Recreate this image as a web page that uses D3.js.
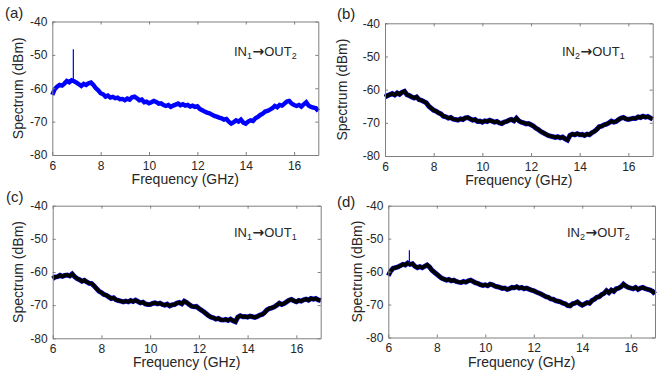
<!DOCTYPE html>
<html>
<head>
<meta charset="utf-8">
<script src="https://cdn.jsdelivr.net/npm/d3@7"></script>
<style>
  body { margin: 0; background: #fff; }
  text { font-family: "Liberation Sans", Arial, sans-serif; fill: #262626; }
</style>
</head>
<body>
<div id="chart"></div>
<script>
// frequency grid of the read-off points (GHz)
var freqGHz = [6.0,6.1,6.2,6.3,6.4,6.5,6.6,6.7,6.8,6.9,7.0,7.1,7.2,7.3,7.4,7.5,7.6,7.7,7.8,7.9,
  8.0,8.1,8.2,8.3,8.4,8.5,8.6,8.7,8.8,8.9,9.0,9.1,9.2,9.3,9.4,9.5,9.6,9.7,9.8,9.9,
  10.0,10.1,10.2,10.3,10.4,10.5,10.6,10.7,10.8,10.9,11.0,11.1,11.2,11.3,11.4,11.5,11.6,11.7,11.8,11.9,
  12.0,12.1,12.2,12.3,12.4,12.5,12.6,12.7,12.8,12.9,13.0,13.1,13.2,13.3,13.4,13.5,13.6,13.7,13.8,13.9,
  14.0,14.1,14.2,14.3,14.4,14.5,14.6,14.7,14.8,14.9,15.0,15.1,15.2,15.3,15.4,15.5,15.6,15.7,15.8,15.9,
  16.0,16.1,16.2,16.3,16.4,16.5,16.6,16.7,16.8,16.9,17.0];

// spectra (dBm)
var specA = [-62.0,-60.3,-59.5,-59.0,-59.2,-58.6,-57.8,-58.2,-57.6,-57.9,
  -58.3,-58.8,-59.3,-58.7,-59.0,-58.5,-58.3,-59.0,-60.0,-60.6,
  -61.5,-61.8,-62.5,-62.2,-62.8,-62.6,-63.0,-62.8,-63.3,-63.2,
  -63.6,-63.1,-63.4,-62.7,-62.5,-63.0,-63.6,-63.4,-64.2,-64.0,
  -64.5,-64.2,-63.8,-64.1,-64.6,-64.5,-65.0,-65.3,-65.0,-65.6,
  -65.2,-64.9,-64.6,-65.1,-64.8,-65.2,-65.0,-65.5,-65.2,-65.6,
  -65.4,-66.2,-66.6,-67.0,-67.3,-67.5,-67.9,-68.3,-68.5,-68.8,
  -69.0,-69.4,-69.2,-70.0,-70.6,-70.2,-69.6,-70.0,-69.4,-70.3,
  -70.6,-70.0,-69.6,-69.8,-69.0,-68.6,-68.0,-67.6,-67.0,-66.8,
  -66.4,-66.0,-65.3,-65.7,-65.0,-65.2,-64.6,-64.0,-63.8,-64.6,
  -65.0,-65.3,-65.0,-65.5,-64.8,-64.2,-65.2,-65.6,-65.8,-66.0,-66.8];

var specB = [-62.2,-61.8,-61.5,-61.2,-61.6,-61.0,-61.4,-60.8,-60.5,-61.5,
  -61.8,-62.2,-62.5,-62.2,-63.0,-63.2,-63.6,-64.0,-65.0,-65.6,
  -66.2,-66.5,-67.0,-67.3,-68.0,-68.2,-68.6,-68.4,-68.9,-69.0,
  -69.2,-68.8,-69.0,-68.5,-68.4,-68.8,-69.2,-69.0,-69.6,-69.5,
  -69.8,-69.4,-69.6,-69.2,-69.5,-69.8,-69.6,-70.0,-70.2,-69.8,
  -69.6,-69.2,-69.0,-69.4,-68.6,-69.4,-69.8,-70.0,-70.3,-70.2,
  -70.6,-71.0,-71.6,-72.0,-72.6,-73.0,-73.4,-73.8,-74.0,-74.2,
  -74.4,-74.2,-74.5,-74.3,-74.8,-75.2,-73.8,-73.4,-73.6,-73.3,
  -73.6,-73.5,-73.8,-73.4,-73.6,-73.0,-72.6,-72.0,-71.2,-71.0,
  -70.6,-70.4,-70.0,-69.5,-69.8,-69.6,-69.0,-68.6,-68.4,-68.8,
  -69.0,-68.8,-68.6,-68.7,-68.2,-68.4,-68.0,-68.3,-68.1,-68.5,-68.9];

var specC = [-62.0,-61.5,-61.4,-61.0,-61.3,-61.0,-60.9,-61.2,-60.6,-61.4,
  -62.0,-62.3,-62.8,-62.5,-63.0,-63.4,-63.5,-64.2,-65.0,-65.8,
  -66.2,-66.8,-67.0,-67.5,-68.0,-67.8,-68.4,-68.6,-68.8,-69.0,
  -68.8,-69.0,-68.6,-68.9,-68.5,-68.9,-69.3,-69.1,-69.6,-69.8,
  -69.8,-69.5,-69.3,-69.6,-69.4,-69.8,-70.0,-69.7,-70.2,-69.9,
  -69.8,-69.4,-69.2,-69.6,-68.8,-69.2,-69.8,-70.3,-70.5,-70.4,
  -71.0,-71.5,-72.0,-72.6,-73.2,-73.6,-73.8,-74.2,-74.0,-74.4,
  -74.5,-74.3,-74.6,-74.2,-74.7,-75.0,-73.6,-73.2,-73.5,-73.4,
  -73.6,-73.3,-73.5,-73.7,-73.4,-73.0,-72.8,-72.2,-71.4,-71.0,
  -70.8,-70.5,-70.0,-69.4,-69.8,-69.5,-69.0,-68.5,-68.3,-68.7,
  -69.0,-68.6,-68.8,-68.4,-68.2,-68.5,-68.0,-68.2,-68.0,-68.4,-68.6];

var specD = [-61.2,-59.8,-59.0,-58.8,-58.6,-58.2,-57.8,-58.0,-57.4,-57.8,
  -57.6,-58.4,-58.8,-58.5,-58.8,-58.4,-58.0,-58.6,-59.6,-60.2,
  -60.8,-61.4,-62.0,-62.3,-62.6,-62.4,-62.8,-62.6,-63.0,-63.2,
  -63.3,-63.0,-63.2,-62.8,-62.6,-63.0,-63.4,-63.6,-64.0,-64.2,
  -64.0,-64.3,-63.8,-64.0,-64.4,-64.6,-64.8,-65.1,-65.0,-65.4,
  -65.2,-64.8,-64.9,-64.6,-65.0,-64.8,-65.2,-65.0,-65.3,-65.6,
  -65.8,-66.2,-66.5,-66.8,-67.2,-67.6,-67.8,-68.3,-68.4,-68.8,
  -69.0,-69.2,-69.6,-69.8,-70.3,-70.4,-69.8,-69.6,-69.2,-69.8,
  -70.2,-69.8,-69.4,-69.6,-68.8,-68.4,-67.8,-67.6,-67.0,-66.6,
  -65.8,-66.4,-65.6,-66.0,-65.2,-65.0,-64.6,-63.8,-64.4,-64.8,
  -65.0,-65.2,-64.8,-65.4,-65.0,-64.8,-65.2,-65.4,-65.6,-66.0,-66.8];

// narrow spurs: [frequency GHz, peak dBm, base dBm]
var spurA = [6.87, -48.3, -57.8];
var spurD = [6.87, -53.5, -57.6];

var panelLetters = ["(a)", "(b)", "(c)", "(d)"];
var routeIn = ["1", "2", "1", "2"];
var routeOut = ["2", "1", "1", "2"];
var xTicks = [6, 8, 10, 12, 14, 16];
var yTicks = [-80, -70, -60, -50, -40];

var width = 664, height = 374;

// layout of the four axes boxes
var panels = [
  {data: specA, spur: spurA, mono: true,  l: 52.3, r: 318.3, t: 21.5, b: 155,   ylab: -34, lx: 5,   ly: 18,  ax: 234, ay: 56},
  {data: specB, spur: null,  mono: false, l: 385,  r: 652.7, t: 23.3, b: 156,   ylab: -43, lx: 337, ly: 19,  ax: 562, ay: 56},
  {data: specC, spur: null,  mono: false, l: 52.7, r: 320.7, t: 205.7, b: 338.3, ylab: -35, lx: 6,   ly: 202, ax: 234, ay: 237},
  {data: specD, spur: spurD, mono: false, l: 388.3, r: 655,  t: 205.7, b: 337.5, ylab: -31, lx: 337, ly: 207, ax: 567, ay: 237}
];

var svg = d3.select('#chart')
  .append('svg')
  .attr('width', width)
  .attr('height', height);

panels.forEach(function(p, i) {
  var x = d3.scaleLinear().domain([6, 17]).range([p.l, p.r]);
  var y = d3.scaleLinear().domain([-80, -40]).range([p.b, p.t]);
  var g = svg.append('g');

  var line = d3.line()
    .x(function(d, k) { return x(freqGHz[k]); })
    .y(function(d) { return y(d); });

  // trace
  if (p.mono) {
    g.append('path').attr('d', line(p.data))
      .attr('fill', 'none').attr('stroke', '#0000ff')
      .attr('stroke-width', 4.4).attr('stroke-linejoin', 'miter');
  } else {
    g.append('path').attr('d', line(p.data))
      .attr('fill', 'none').attr('stroke', '#1a1aff')
      .attr('stroke-width', 5).attr('stroke-linejoin', 'miter');
    g.append('path').attr('d', line(p.data))
      .attr('fill', 'none').attr('stroke', '#000')
      .attr('stroke-width', 4).attr('stroke-linejoin', 'miter');
  }
  if (p.spur) {
    g.append('line')
      .attr('x1', x(p.spur[0])).attr('x2', x(p.spur[0]))
      .attr('y1', y(p.spur[2])).attr('y2', y(p.spur[1]))
      .attr('stroke', '#0000ff').attr('stroke-width', 1.2);
  }

  // frame and ticks (mirrored, inward)
  var axColor = '#7f7f7f';
  var bottom = d3.axisBottom(x).tickValues(xTicks).tickSizeInner(-3).tickSizeOuter(0).tickPadding(6);
  var top = d3.axisTop(x).tickValues(xTicks).tickSizeInner(-3).tickSizeOuter(0).tickFormat('');
  var left = d3.axisLeft(y).tickValues(yTicks).tickSizeInner(-3).tickSizeOuter(0).tickPadding(5);
  var right = d3.axisRight(y).tickValues(yTicks).tickSizeInner(-3).tickSizeOuter(0).tickFormat('');

  var gb = g.append('g').attr('transform', 'translate(0,' + p.b + ')').call(bottom);
  var gt = g.append('g').attr('transform', 'translate(0,' + p.t + ')').call(top);
  var gl = g.append('g').attr('transform', 'translate(' + p.l + ',0)').call(left);
  var gr = g.append('g').attr('transform', 'translate(' + p.r + ',0)').call(right);
  [gb, gt, gl, gr].forEach(function(a) {
    a.selectAll('path, line').attr('stroke', axColor);
    a.selectAll('text').style('font-size', '12px').attr('fill', '#262626')
      .style('font-family', '"Liberation Sans", Arial, sans-serif');
  });
  gl.selectAll('text').text(function(d) { return d; });

  // axis labels
  g.append('text')
    .attr('x', (p.l + p.r) / 2).attr('y', p.b + 29)
    .attr('text-anchor', 'middle').style('font-size', '14px')
    .text('Frequency (GHz)');
  g.append('text')
    .attr('transform', 'translate(' + (p.l + p.ylab + 5) + ',' + ((p.t + p.b) / 2) + ') rotate(-90)')
    .attr('text-anchor', 'middle').style('font-size', '14px')
    .text('Spectrum (dBm)');

  // panel letter
  g.append('text').attr('x', p.lx).attr('y', p.ly)
    .style('font-size', '15px').text(panelLetters[i]);

  // route annotation
  var ann = g.append('text').attr('x', p.ax).attr('y', p.ay)
    .style('font-size', '13px').attr('fill', '#000');
  ann.append('tspan').text('IN');
  ann.append('tspan').attr('dy', 3).style('font-size', '9px').text(routeIn[i]);
  ann.append('tspan').attr('dy', -3).attr('dx', 0.5)
    .style('font-family', '"DejaVu Sans", sans-serif').style('font-size', '14px').style('font-weight', 'bold')
    .text('\u2192');
  ann.append('tspan').text('OUT');
  ann.append('tspan').attr('dy', 3).style('font-size', '9px').text(routeOut[i]);
});
</script>
</body>
</html>
